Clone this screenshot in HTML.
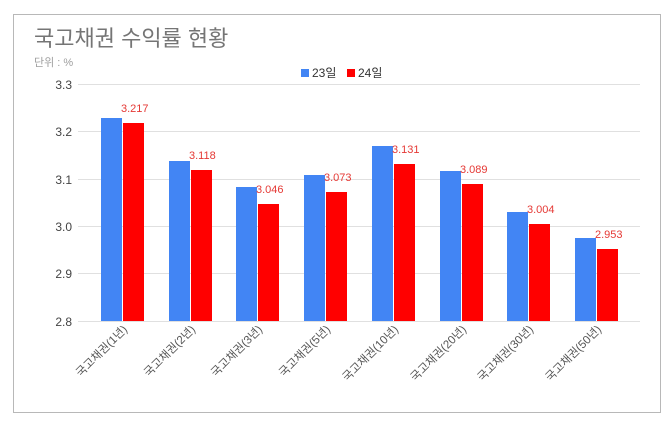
<!DOCTYPE html><html><head><meta charset="utf-8"><style>body{margin:0;background:#fff}svg{display:block}text{font-family:"Liberation Sans","Noto Sans CJK KR",sans-serif}</style></head><body>
<svg width="670" height="422" viewBox="0 0 670 422">
<rect x="13.5" y="14.5" width="647" height="398" fill="#fff" stroke="#b8b8b8"/>
<text x="34" y="46" font-size="22" fill="#757575">국고채권 수익률 현황</text>
<text x="34" y="66" font-size="11" fill="#9e9e9e">단위 : %</text>
<rect x="301" y="69" width="8" height="8" fill="#4285f4"/><text x="312" y="77" font-size="12" fill="#333">23일</text>
<rect x="347" y="69" width="8" height="8" fill="#ff0000"/><text x="358" y="77" font-size="12" fill="#333">24일</text>
<g stroke="#e0e0e0" stroke-width="1">
<line x1="78" x2="640" y1="84.5" y2="84.5"/><line x1="78" x2="640" y1="131.5" y2="131.5"/><line x1="78" x2="640" y1="179.5" y2="179.5"/><line x1="78" x2="640" y1="226.5" y2="226.5"/><line x1="78" x2="640" y1="273.5" y2="273.5"/><line x1="78" x2="640" y1="321.5" y2="321.5"/></g>
<g font-size="12" fill="#444" text-anchor="end">
<text x="72" y="89">3.3</text><text x="72" y="136">3.2</text><text x="72" y="184">3.1</text><text x="72" y="231">3.0</text><text x="72" y="278">2.9</text><text x="72" y="326">2.8</text></g>
<g fill="#4285f4">
<rect x="101" y="118" width="21" height="203"/>
<rect x="169" y="161" width="21" height="160"/>
<rect x="236" y="187" width="21" height="134"/>
<rect x="304" y="175" width="21" height="146"/>
<rect x="372" y="146" width="21" height="175"/>
<rect x="440" y="171" width="21" height="150"/>
<rect x="507" y="212" width="21" height="109"/>
<rect x="575" y="238" width="21" height="83"/>
</g>
<g fill="#ff0000">
<rect x="123" y="123" width="21" height="198"/>
<rect x="191" y="170" width="21" height="151"/>
<rect x="258" y="204" width="21" height="117"/>
<rect x="326" y="192" width="21" height="129"/>
<rect x="394" y="164" width="21" height="157"/>
<rect x="462" y="184" width="21" height="137"/>
<rect x="529" y="224" width="21" height="97"/>
<rect x="597" y="249" width="21" height="72"/>
</g>
<g font-size="11" fill="#e53935">
<text x="121" y="112">3.217</text>
<text x="189" y="159">3.118</text>
<text x="256" y="193">3.046</text>
<text x="324" y="181">3.073</text>
<text x="392" y="153">3.131</text>
<text x="460" y="173">3.089</text>
<text x="527" y="213">3.004</text>
<text x="595" y="238">2.953</text>
</g>
<g font-size="11.5" fill="#555" text-anchor="end">
<text transform="translate(128,330) rotate(-45)">국고채권(1년)</text>
<text transform="translate(196,330) rotate(-45)">국고채권(2년)</text>
<text transform="translate(263,330) rotate(-45)">국고채권(3년)</text>
<text transform="translate(331,330) rotate(-45)">국고채권(5년)</text>
<text transform="translate(399,330) rotate(-45)">국고채권(10년)</text>
<text transform="translate(467,330) rotate(-45)">국고채권(20년)</text>
<text transform="translate(534,330) rotate(-45)">국고채권(30년)</text>
<text transform="translate(602,330) rotate(-45)">국고채권(50년)</text>
</g>
</svg></body></html>
